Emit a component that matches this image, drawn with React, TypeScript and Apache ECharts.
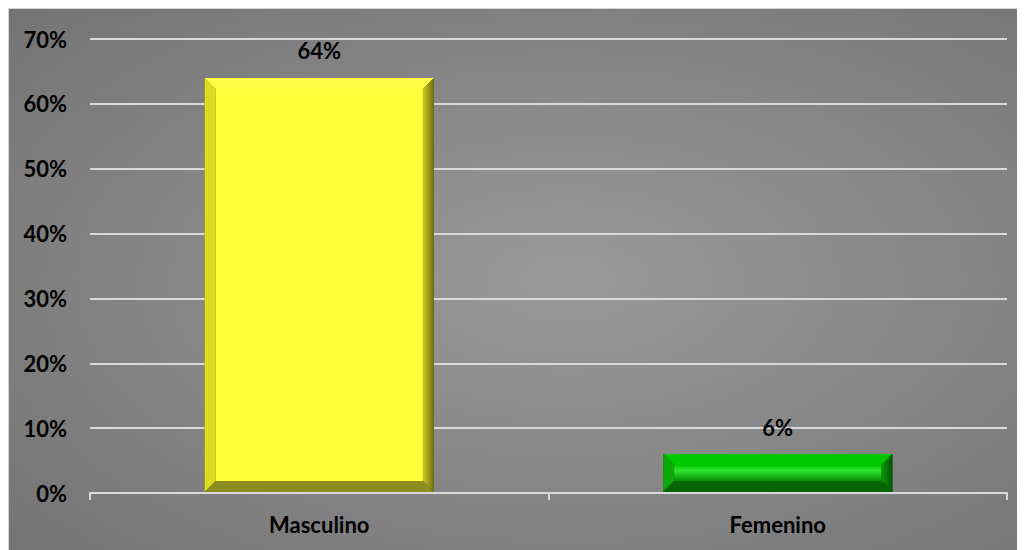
import React, { useEffect, useRef } from "react";
import * as echarts from "echarts";

const categories = ["Masculino", "Femenino"];
const values = [64, 6];
const yTicks = [0, 10, 20, 30, 40, 50, 60, 70];

const palettes = [
  { face: ["#ffff3a", "#ffff30", "#f6f62a"], left: "#dcdc22", top: "#ffff45", right: ["#c9c91e", "#6f6f12"], bottom: "#8c8c22", edge: "#5a5a10" },
  { face: ["#00c400", "#2fe82f", "#078a07"], left: "#0aa80a", top: "#00c800", right: ["#079807", "#055505"], bottom: "#056405", edge: "#034003" },
];

export default function App() {
  const ref = useRef<HTMLDivElement>(null);
  useEffect(() => {
    const chart = echarts.init(ref.current!, null, { renderer: "svg" });
    chart.setOption({
      animation: false,
      backgroundColor: {
        type: "radial", x: 0.55, y: 0.5, r: 0.75,
        colorStops: [{ offset: 0, color: "#9a9a9a" }, { offset: 1, color: "#737373" }],
      },
      grid: { left: 81, right: 18, top: 30, bottom: 57 },
      xAxis: {
        type: "category",
        data: categories,
        axisLine: { lineStyle: { color: "#d9d9d9", width: 2 } },
        axisTick: { show: true, length: 7, lineStyle: { color: "#d9d9d9", width: 2 } },
        axisLabel: { color: "#000", fontFamily: "Lato", fontWeight: "bold", fontSize: 22, margin: 20 },
      },
      yAxis: {
        type: "value",
        min: yTicks[0], max: yTicks[yTicks.length - 1], interval: 10,
        axisLine: { show: false },
        axisTick: { show: false },
        splitLine: { lineStyle: { color: "#d9d9d9", width: 2 } },
        axisLabel: { color: "#000", fontFamily: "Lato", fontWeight: "bold", fontSize: 22, margin: 23, formatter: (v: number) => v + "%" },
      },
      series: [{
        type: "custom",
        data: values.map((v, i) => [i, v]),
        renderItem: (params: any, api: any) => {
          const idx = api.value(0);
          const v = api.value(1);
          const topPt = api.coord([idx, v]);
          const basePt = api.coord([idx, 0]);
          const bw = api.size([1, 0])[0] * 0.5;
          const x0 = topPt[0] - bw / 2, x1 = topPt[0] + bw / 2;
          const y0 = topPt[1], y1 = basePt[1] - 1;
          const h = y1 - y0;
          const b = Math.min(11, h / 2.6);
          const p = palettes[idx % palettes.length];
          const lin = (c: string[]) => ({
            type: "linear", x: 0, y: 0, x2: 0, y2: 1,
            colorStops: [{ offset: 0, color: c[0] }, { offset: 0.35, color: c[1] }, { offset: 1, color: c[2] }],
          });
          return {
            type: "group",
            children: [
              { type: "rect", shape: { x: x0, y: y0, width: bw, height: h }, style: { fill: p.edge } },
              { type: "polygon", shape: { points: [[x0, y0], [x1, y0], [x1 - b, y0 + b], [x0 + b, y0 + b]] }, style: { fill: p.top } },
              { type: "polygon", shape: { points: [[x0, y0], [x0 + b, y0 + b], [x0 + b, y1 - b], [x0, y1]] }, style: { fill: p.left } },
              { type: "polygon", shape: { points: [[x1, y0], [x1, y1], [x1 - b, y1 - b], [x1 - b, y0 + b]] }, style: { fill: { type: "linear", x: 0, y: 0, x2: 1, y2: 0, colorStops: [{ offset: 0, color: p.right[0] }, { offset: 1, color: p.right[1] }] } } },
              { type: "polygon", shape: { points: [[x0, y1], [x0 + b, y1 - b], [x1 - b, y1 - b], [x1, y1]] }, style: { fill: p.bottom } },
              { type: "rect", shape: { x: x0 + b, y: y0 + b, width: bw - 2 * b, height: h - 2 * b }, style: { fill: idx === 1 ? lin(p.face) : p.face[0] } },
              {
                type: "text",
                style: {
                  text: v + "%", x: topPt[0], y: y0 - 27, align: "center", verticalAlign: "middle",
                  fill: "#000", font: "bold 22px Lato",
                },
              },
            ],
          };
        },
      }],
    });
    return () => chart.dispose();
  }, []);
  return (
    <div
      ref={ref}
      style={{ width: 1017, height: 542, boxSizing: "border-box", borderLeft: "1px solid #d4d4d4", borderTop: "1px solid #d4d4d4" }}
    />
  );
}
